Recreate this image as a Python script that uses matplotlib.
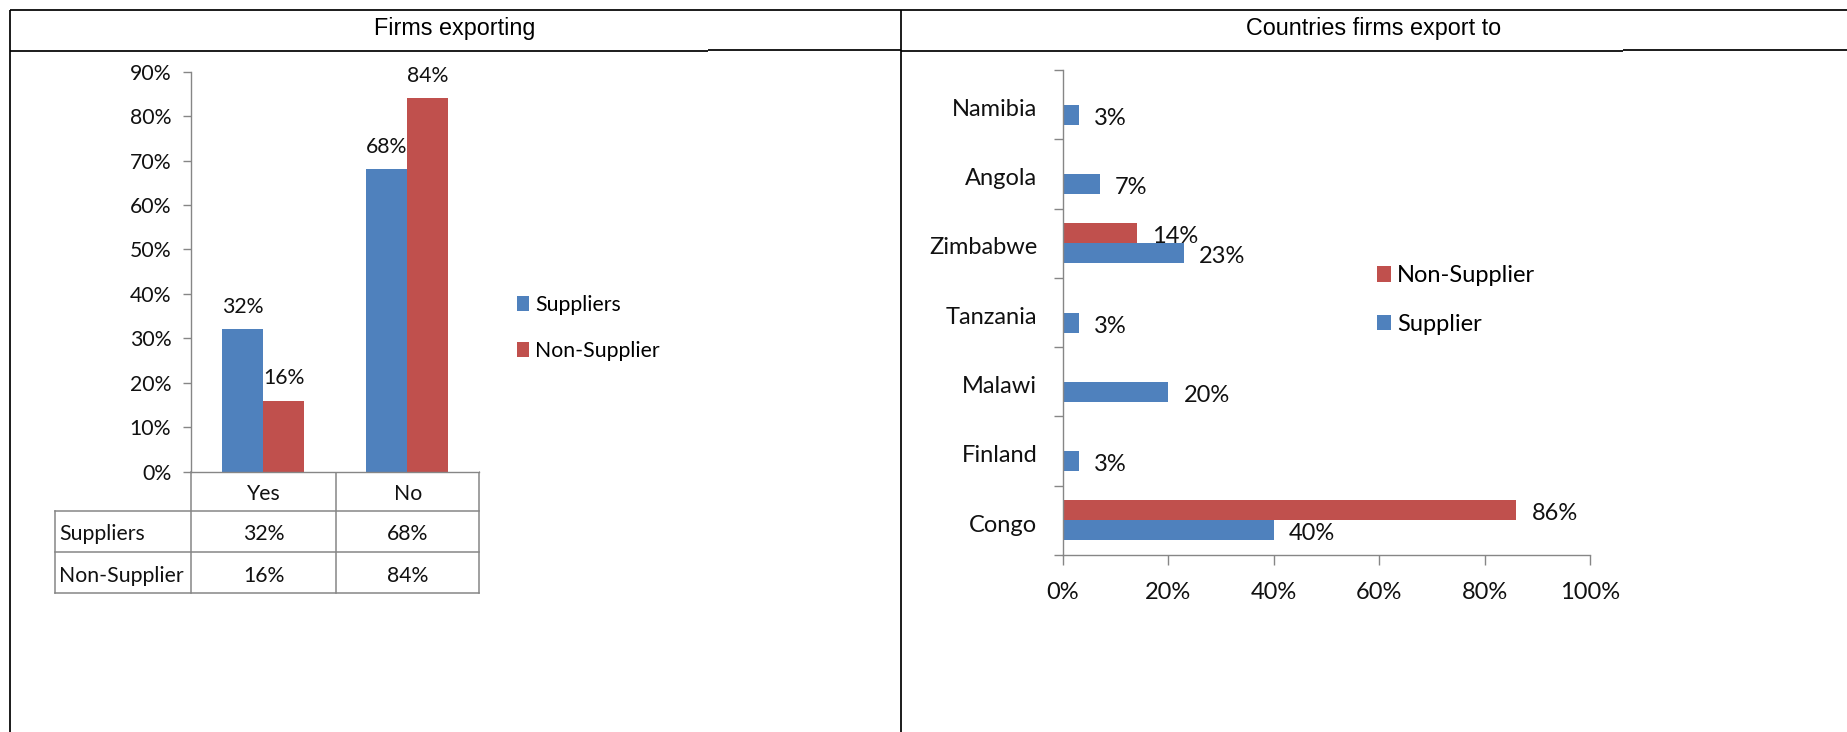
import matplotlib
matplotlib.use('Agg')
import matplotlib.pyplot as plt
from matplotlib.transforms import ScaledTranslation
import numpy as np

# ---------------- data ----------------
header_titles = ['Firms exporting', 'Countries firms export to']

export_categories = ['Yes', 'No']
export_series = ['Suppliers', 'Non-Supplier']
export_suppliers = [32, 68]
export_nonsupplier = [16, 84]
export_yticks = [0, 10, 20, 30, 40, 50, 60, 70, 80, 90]

countries = ['Congo', 'Finland', 'Malawi', 'Tanzania', 'Zimbabwe', 'Angola', 'Namibia']
country_series = ['Supplier', 'Non-Supplier']
country_supplier = [40, 3, 20, 3, 23, 7, 3]
country_nonsupplier = [86, None, None, None, 14, None, None]
country_xticks = [0, 20, 40, 60, 80, 100]

# ---------------- style ----------------
W, H, DPI = 1847, 732, 100
BLUE = '#4F81BD'
RED = '#C0504D'
GRAY = '#868686'
TXT = '#111111'
CHART_FONT = ['Lato', 'DejaVu Sans']
HEAD_FONT = ['Liberation Sans', 'DejaVu Sans']
plt.rcParams['font.family'] = CHART_FONT


def box(l, t, r, b):
    return [l / W, 1 - b / H, (r - l) / W, (b - t) / H]


fig = plt.figure(figsize=(W / DPI, H / DPI), dpi=DPI)
fig.patch.set_facecolor('white')

# overlay in pixel coords for the document table frame
ov = fig.add_axes([0, 0, 1, 1], zorder=-1)
ov.set_xlim(0, W)
ov.set_ylim(H, 0)
ov.axis('off')
LW = 1.25
ov.plot([9.5, W], [10, 10], color='black', lw=LW, solid_capstyle='butt')
ov.plot([9.5, 708], [50.8, 50.8], color='black', lw=LW, solid_capstyle='butt')
ov.plot([708, 901], [50.2, 50.2], color='black', lw=LW, solid_capstyle='butt')
ov.plot([901, 1623], [51, 51], color='black', lw=LW, solid_capstyle='butt')
ov.plot([1623, W], [50.3, 50.3], color='black', lw=LW, solid_capstyle='butt')
ov.plot([9.5, 9.5], [10, H], color='black', lw=LW, solid_capstyle='butt')
ov.plot([901, 901], [10, H], color='black', lw=LW, solid_capstyle='butt')
ov.text(455, 34.7, header_titles[0], ha='center', va='baseline',
        fontsize=16.8, family=HEAD_FONT, color='black')
ov.text(1374, 34.7, header_titles[1], ha='center', va='baseline',
        fontsize=16.8, family=HEAD_FONT, color='black')

# ---------------- left chart ----------------
FS1 = 15.3
ax1 = fig.add_axes(box(191, 71.7, 479.3, 471.7))
x = np.arange(len(export_categories))
bw = 0.285
b1 = ax1.bar(x - bw / 2, export_suppliers, bw, color=BLUE, linewidth=0)
b2 = ax1.bar(x + bw / 2, export_nonsupplier, bw, color=RED, linewidth=0)
ax1.set_xlim(-0.5, 1.5)
ax1.set_ylim(0, 90)
ax1.set_yticks(export_yticks)
ax1.set_yticklabels([f'{v}%' for v in export_yticks])
ax1.set_xticks([])
ax1.tick_params(axis='y', length=5.8, width=1, color=GRAY, pad=8.4,
                labelsize=FS1, labelcolor=TXT)
for s in ['top', 'right']:
    ax1.spines[s].set_visible(False)
for s in ['left', 'bottom']:
    ax1.spines[s].set_color(GRAY)
    ax1.spines[s].set_linewidth(1)
for bars, vals in ((b1, export_suppliers), (b2, export_nonsupplier)):
    for rect, v in zip(bars, vals):
        ax1.annotate(f'{v}%', (rect.get_x() + rect.get_width() / 2, v),
                     xytext=(0, 16), textcoords='offset points',
                     ha='center', va='center', fontsize=FS1, color=TXT)

# data table under the left chart (pixel layout)
TL = 1.1
col_x = [55, 191, 336, 479.3]
row_y = [471.7, 510.7, 552.3, 592.7]
ov.plot([191, 191], [row_y[0], row_y[3]], color=GRAY, lw=TL)
ov.plot([336, 336], [row_y[0], row_y[3]], color=GRAY, lw=TL)
ov.plot([479.3, 479.3], [row_y[0], row_y[3]], color=GRAY, lw=TL)
ov.plot([55, 55], [row_y[1], row_y[3]], color=GRAY, lw=TL)
for yy in row_y[1:]:
    ov.plot([55, 479.3], [yy, yy], color=GRAY, lw=TL)
centers = [(col_x[1] + col_x[2]) / 2, (col_x[2] + col_x[3]) / 2]
for cx, cat in zip(centers, export_categories):
    ov.text(cx, (row_y[0] + row_y[1]) / 2 + 3, cat, ha='center', va='center',
            fontsize=FS1, color=TXT)
for r, (name, vals) in enumerate(zip(export_series,
                                     [export_suppliers, export_nonsupplier])):
    yc = (row_y[r + 1] + row_y[r + 2]) / 2 + 3
    ov.text(59, yc, name, ha='left', va='center', fontsize=FS1, color=TXT)
    for cx, v in zip(centers, vals):
        ov.text(cx, yc, f'{v}%', ha='center', va='center', fontsize=FS1, color=TXT)

fig.legend([b1, b2], export_series, loc='upper left',
           bbox_to_anchor=(517.3 / W, 1 - 295.3 / H), frameon=False,
           borderpad=0, borderaxespad=0, handlelength=0.57, handleheight=0.7,
           handletextpad=0.28, labelspacing=1.22, fontsize=FS1)

# ---------------- right chart ----------------
FS2 = 17
ax2 = fig.add_axes(box(1062.7, 70, 1590, 555))
y = np.arange(len(countries))
bh = 0.29
hb1 = ax2.barh(y - bh / 2, country_supplier, bh, color=BLUE, linewidth=0)
ns_idx = [i for i, v in enumerate(country_nonsupplier) if v is not None]
ns_val = [country_nonsupplier[i] for i in ns_idx]
hb2 = ax2.barh(y[ns_idx] + bh / 2, ns_val, bh, color=RED, linewidth=0)
ax2.set_xlim(0, 100)
ax2.set_ylim(-0.5, len(countries) - 0.5)
ax2.set_yticks(y)
ax2.set_yticklabels(countries)
ax2.set_yticks(np.arange(-0.5, len(countries), 1), minor=True)
ax2.set_xticks(country_xticks)
ax2.set_xticklabels([f'{v}%' for v in country_xticks])
ax2.tick_params(axis='y', which='major', length=0, pad=18.3,
                labelsize=FS2, labelcolor=TXT)
ax2.tick_params(axis='y', which='minor', length=6.5, width=1, color=GRAY)
ax2.tick_params(axis='x', length=7.2, width=1, color=GRAY, pad=12,
                labelsize=FS2, labelcolor=TXT)
shift = ScaledTranslation(0, -2.0 / 72, fig.dpi_scale_trans)
for lab in ax2.get_yticklabels():
    lab.set_transform(lab.get_transform() + shift)
for s in ['top', 'right']:
    ax2.spines[s].set_visible(False)
for s in ['left', 'bottom']:
    ax2.spines[s].set_color(GRAY)
    ax2.spines[s].set_linewidth(1)
for yi, v in zip(y, country_supplier):
    ax2.annotate(f'{v}%', (v, yi - bh / 2), xytext=(11, -2.5),
                 textcoords='offset points', ha='left', va='center',
                 fontsize=FS2, color=TXT)
for i, v in zip(ns_idx, ns_val):
    ax2.annotate(f'{v}%', (v, y[i] + bh / 2), xytext=(11, -2.5),
                 textcoords='offset points', ha='left', va='center',
                 fontsize=FS2, color=TXT)

fig.legend([hb2, hb1], [country_series[1], country_series[0]], loc='upper left',
           bbox_to_anchor=(1376.7 / W, 1 - 265.2 / H), frameon=False,
           borderpad=0, borderaxespad=0, handlelength=0.59, handleheight=0.62,
           handletextpad=0.28, labelspacing=1.18, fontsize=FS2)

fig.savefig('out.png', dpi=DPI, facecolor='white')
